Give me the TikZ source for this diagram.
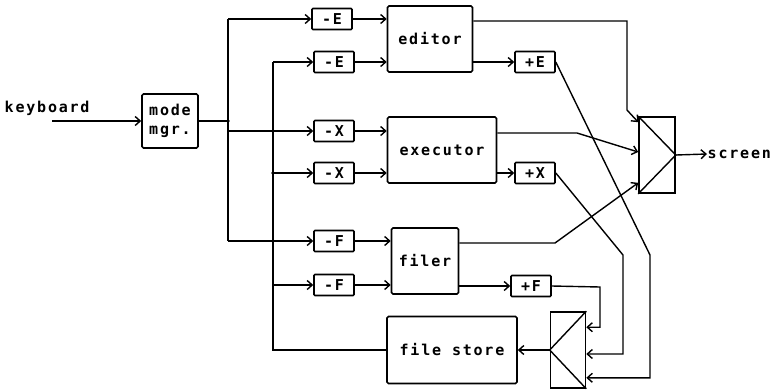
\documentclass[tikz,border=0pt]{standalone}
\usepackage{fontspec}
\newfontfamily\dotfont{DejaVu Sans Mono}[LetterSpace=12]
\usetikzlibrary{arrows.meta}

\begin{document}
\begin{tikzpicture}[x=1pt,y=-1pt,>={Straight Barb[length=5pt,width=9pt]},
  font=\fontsize{15}{19}\dotfont\bfseries,line width=1.4pt,
  blk/.style={draw,line width=1.6pt,rounded corners=1.5pt,inner sep=0pt,minimum height=66pt},
  sgn/.style={draw,line width=1.6pt,rounded corners=1pt,inner sep=0pt,minimum width=40pt,minimum height=21pt},
  mux/.style={draw,line width=1.6pt,inner sep=0pt,minimum width=36pt,minimum height=76pt},
  txt/.style={inner sep=0pt,anchor=west},
  jn/.style={circle,fill,inner sep=1.3pt}]
  \useasboundingbox (0,0) rectangle (774,389);
  \node[txt] (kb) at (4,108) {keyboard};
  \node[blk,minimum width=56pt,minimum height=54pt,align=center] (mm) at (170,121) {mode\\mgr.};
  \node[sgn] (mE1) at (332,19) {-E};
  \node[sgn] (mE2) at (334,62) {-E};
  \node[sgn] (mX1) at (334,131) {-X};
  \node[sgn] (mX2) at (334,173) {-X};
  \node[sgn] (mF1) at (334,241) {-F};
  \node[sgn] (mF2) at (334,285) {-F};
  \node[blk,minimum width=85pt] (ed) at (430,39) {editor};
  \node[blk,minimum width=109pt] (ex) at (442,150) {executor};
  \node[blk,minimum width=67pt] (fl) at (425,261) {filer};
  \node[blk,minimum width=130pt,minimum height=67pt] (fs) at (452,350) {file store};
  \node[sgn] (pE) at (535,62) {+E};
  \node[sgn] (pX) at (535,173) {+X};
  \node[sgn] (pF) at (531,286) {+F};
  \node[mux] (sm) at (657,155) {};
  \node[mux,minimum width=35pt] (fm) at (568,350) {};
  \node[txt] (scr) at (707,154) {screen};
  \draw (sm.north west) -- (sm.east) -- (sm.south west);
  \draw (fm.north east) -- (fm.west) -- (fm.south east);
  \coordinate (kin) at (52,121);
  \coordinate (aM) at (228,121);
  \coordinate (aT) at (228,19);
  \coordinate (aB) at (228,241);
  \coordinate (bT) at (273,62);
  \coordinate (bB) at (273,350);
  \draw[->] (kin) -- (mm);
  \draw[line width=2.2pt] (mm) -- (aM);
  \draw[line width=2.2pt] (aT) -- (aB);
  \draw[line width=1.8pt] (fs) -- (bB) -- (bT);
  \node[jn] at (aM) {};
  \node[jn] at (bB |- mX2) {};
  \draw[->] (aT) -- (mE1);
  \draw[->] (aM |- mX1) -- (mX1);
  \draw[->] (aB) -- (mF1);
  \draw[->] (bT) -- (mE2);
  \draw[->] (bB |- mX2) -- (mX2);
  \draw[->] (bB |- mF2) -- (mF2);
  \draw[->] (mE1) -- (mE1 -| ed.west);
  \draw[->] (mE2) -- (mE2 -| ed.west);
  \draw[->] (mX1) -- (mX1 -| ex.west);
  \draw[->] (mX2) -- (mX2 -| ex.west);
  \draw[->] (mF1) -- (mF1 -| fl.west);
  \draw[->] (mF2) -- (mF2 -| fl.west);
  \draw[->] (ed.east |- pE) -- (pE);
  \draw[->] (ex.east |- pX) -- (pX);
  \draw[->] (fl.east |- pF) -- (pF);
  \coordinate (e1) at (627,21);
  \coordinate (e2) at (627,110);
  \coordinate (x1) at (577,133);
  \coordinate (f1) at (555,243);
  \draw[->] (ed.east |- e1) -- (e1) -- (e2) -- ([yshift=-6pt]sm.north west);
  \draw[->] (ex.east |- x1) -- (x1) -- ([yshift=3pt]sm.west);
  \draw[->] (fl.east |- f1) -- (f1) -- ([yshift=11pt]sm.south west);
  \draw[->] (sm.east) -- (scr.west);
  \coordinate (pe1) at (650,255);
  \coordinate (px1) at (623,255);
  \coordinate (pf1) at (600,287);
  \coordinate (ie) at ([yshift=11pt]fm.south east);
  \coordinate (ix) at ([yshift=-4pt]fm.east);
  \coordinate (if) at ([yshift=-16pt]fm.north east);
  \draw[->] (pE.east) -- (pe1) -- (pe1 |- ie) -- (ie);
  \draw[->] (pX.east) -- (px1) -- (px1 |- ix) -- (ix);
  \draw[->] (pF.east) -- (pf1) -- (pf1 |- if) -- (if);
  \draw[->] (fm.west) -- (fs.east);
\end{tikzpicture}
\end{document}
